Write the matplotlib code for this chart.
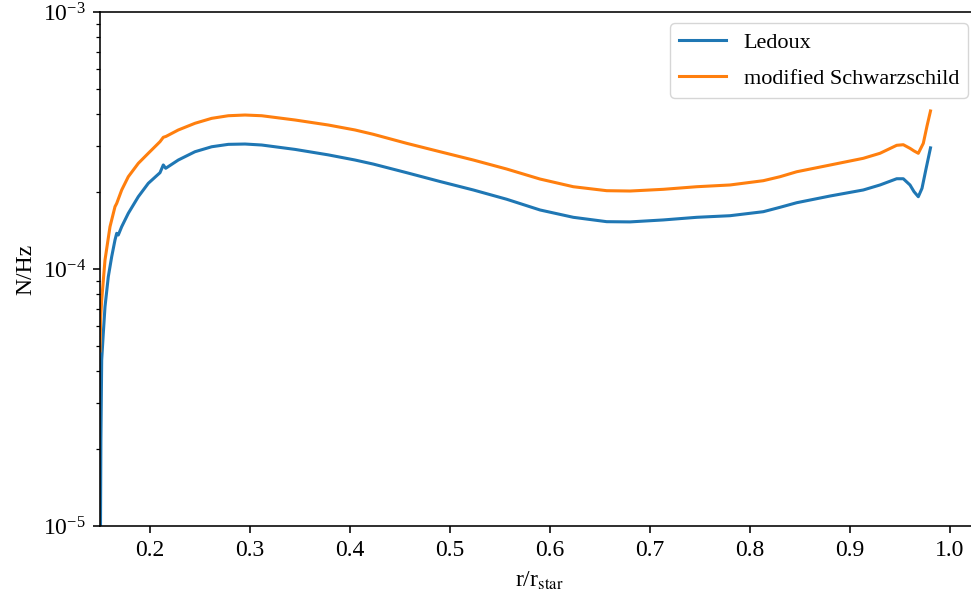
import matplotlib
matplotlib.use("Agg")
import matplotlib.pyplot as plt

plt.rcParams["font.family"] = ["Liberation Serif", "DejaVu Serif"]
plt.rcParams["mathtext.fontset"] = "stix"
plt.rcParams["font.size"] = 17

# Radial coordinate (r / r_star) and Brunt-Vaisala frequency N [Hz]
r_ledoux = [0.1503, 0.1505, 0.1509, 0.1517, 0.1533, 0.1550, 0.1583, 0.1617,
            0.1650, 0.1667, 0.1683, 0.1717, 0.1783, 0.1883, 0.1983, 0.2100,
            0.2133, 0.2157, 0.2283, 0.2450, 0.2617, 0.2783, 0.2950, 0.3117,
            0.3450, 0.3783, 0.4050, 0.4233, 0.4567, 0.4900, 0.5233, 0.5567,
            0.5900, 0.6233, 0.6567, 0.6800, 0.7133, 0.7467, 0.7800, 0.8133,
            0.8300, 0.8467, 0.8800, 0.9133, 0.9300, 0.9467, 0.9533, 0.9600,
            0.9640, 0.9683, 0.9720, 0.9760, 0.9805]
n_ledoux = [3.0e-6, 1.0e-5, 2.16e-5, 4.43e-5, 5.62e-5, 7.13e-5, 9.33e-5, 1.117e-4,
            1.297e-4, 1.377e-4, 1.356e-4, 1.461e-4, 1.647e-4, 1.911e-4, 2.155e-4, 2.37e-4,
            2.54e-4, 2.465e-4, 2.655e-4, 2.86e-4, 2.99e-4, 3.055e-4, 3.064e-4, 3.037e-4,
            2.92e-4, 2.78e-4, 2.655e-4, 2.56e-4, 2.37e-4, 2.19e-4, 2.03e-4, 1.868e-4,
            1.697e-4, 1.589e-4, 1.528e-4, 1.525e-4, 1.552e-4, 1.589e-4, 1.612e-4, 1.671e-4,
            1.738e-4, 1.811e-4, 1.923e-4, 2.03e-4, 2.123e-4, 2.245e-4, 2.245e-4, 2.123e-4,
            2.0e-4, 1.911e-4, 2.06e-4, 2.45e-4, 2.96e-4]

r_schwarz = [0.1500, 0.1507, 0.1517, 0.1550, 0.1600, 0.1650, 0.1667, 0.1717,
             0.1783, 0.1883, 0.1983, 0.2100, 0.2133, 0.2160, 0.2283, 0.2450,
             0.2617, 0.2783, 0.2950, 0.3117, 0.3450, 0.3783, 0.4050, 0.4233,
             0.4567, 0.4900, 0.5233, 0.5567, 0.5900, 0.6233, 0.6567, 0.6800,
             0.7133, 0.7467, 0.7800, 0.8133, 0.8300, 0.8467, 0.8800, 0.9133,
             0.9300, 0.9467, 0.9533, 0.9600, 0.9640, 0.9683, 0.9733, 0.9770,
             0.9805]
n_schwarz = [4.8e-5, 6.5e-5, 7.57e-5, 1.084e-4, 1.461e-4, 1.748e-4, 1.80e-4, 2.03e-4,
             2.286e-4, 2.577e-4, 2.82e-4, 3.129e-4, 3.254e-4, 3.28e-4, 3.475e-4, 3.69e-4,
             3.857e-4, 3.948e-4, 3.973e-4, 3.948e-4, 3.80e-4, 3.633e-4, 3.475e-4, 3.343e-4,
             3.083e-4, 2.86e-4, 2.655e-4, 2.449e-4, 2.239e-4, 2.09e-4, 2.017e-4, 2.011e-4,
             2.042e-4, 2.09e-4, 2.123e-4, 2.206e-4, 2.286e-4, 2.39e-4, 2.538e-4, 2.696e-4,
             2.82e-4, 3.029e-4, 3.045e-4, 2.948e-4, 2.88e-4, 2.82e-4, 3.083e-4, 3.60e-4,
             4.12e-4]

labels = ["Ledoux", "modified Schwarzschild"]

W, H = 971, 598
fig = plt.figure(figsize=(W / 100, H / 100), dpi=100)
ax = fig.add_axes([100 / W, (H - 526) / H, 879 / W, 514 / H])

ax.plot(r_ledoux, n_ledoux, color="#1f77b4", lw=2.2, label=labels[0])
ax.plot(r_schwarz, n_schwarz, color="#ff7f0e", lw=2.2, label=labels[1])

ax.set_yscale("log")
ax.set_ylim(1e-5, 1e-3)
ax.set_xlim(0.15, 1.029)
ax.set_xticks([0.2, 0.3, 0.4, 0.5, 0.6, 0.7, 0.8, 0.9, 1.0])
ax.set_xticklabels(["0.2", "0.3", "0.4", "0.5", "0.6", "0.7", "0.8", "0.9", "1.0"])

for s in ax.spines.values():
    s.set_linewidth(1.15)
ax.tick_params(which="major", length=5, width=1.15, labelsize=17, pad=5)
ax.tick_params(which="minor", length=2.9, width=0.9)

ax.set_xlabel(r"r/r$_{\rm star}$", fontsize=17, labelpad=6)
ax.set_ylabel("N/Hz", fontsize=17, labelpad=5)

ax.legend(loc="upper right", fontsize=16, handlelength=2.1,
          labelspacing=0.7, borderpad=0.4)

fig.savefig("out.png", dpi=100)
